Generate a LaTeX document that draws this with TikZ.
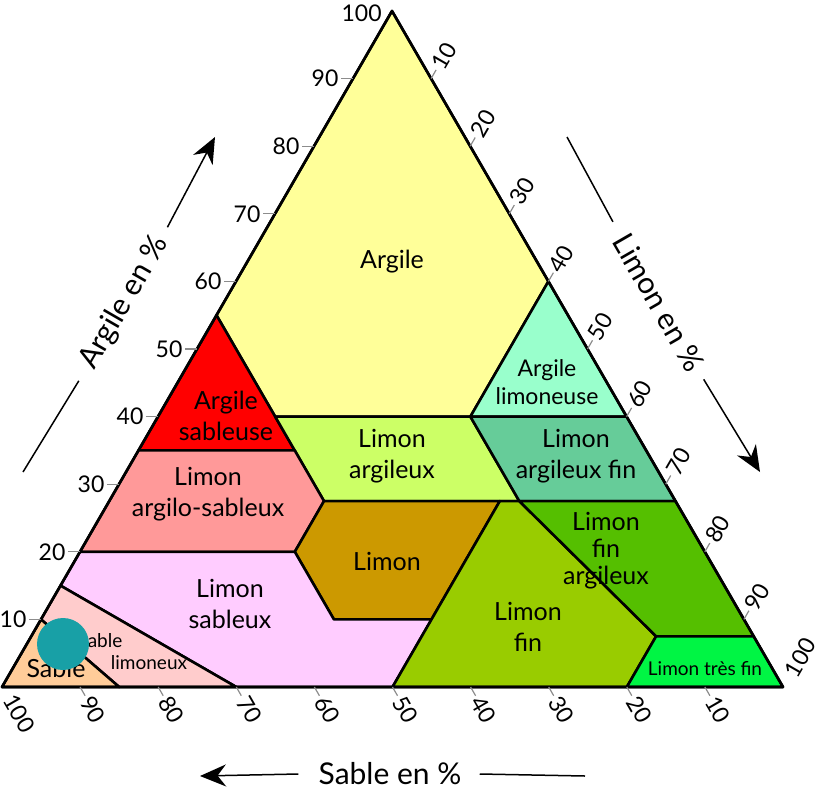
\documentclass[tikz,border=0pt]{standalone}
\usepackage{fontspec}
\setmainfont{Lato}
\usetikzlibrary{arrows.meta}
\definecolor{argile}{RGB}{255,255,153}
\definecolor{argsab}{RGB}{255,0,0}
\definecolor{arglim}{RGB}{153,255,204}
\definecolor{limarg}{RGB}{204,255,102}
\definecolor{limargfin}{RGB}{102,204,153}
\definecolor{limargsab}{RGB}{255,153,153}
\definecolor{limon}{RGB}{204,153,0}
\definecolor{limfin}{RGB}{153,204,0}
\definecolor{limfinarg}{RGB}{85,191,0}
\definecolor{limsab}{RGB}{255,204,255}
\definecolor{sablim}{RGB}{255,204,204}
\definecolor{sable}{RGB}{255,204,153}
\definecolor{limtresfin}{RGB}{0,245,68}
\definecolor{dotteal}{RGB}{24,160,166}
\tikzset{
	zone/.style={draw=black, line width=1.3pt, line join=round},
	zonetext/.style={align=center, font=\fontsize{12.5}{15.5}\selectfont},
	smalltext/.style={align=center, font=\fontsize{9.5}{11}\selectfont},
	tickline/.style={draw=black!45, line width=0.6pt},
	ticklabel/.style={font=\fontsize{11.5}{13}\selectfont, inner sep=1pt},
	axistitle/.style={font=\fontsize{15}{17}\selectfont, inner sep=0pt},
	axisline/.style={line width=0.75pt},
	axisarrow/.style={line width=0.75pt, -{Stealth[length=13pt,width=11pt]}}
}

\begin{document}
\begin{tikzpicture}[x=0.5pt,y=-0.5pt]
        \useasboundingbox (0,0) rectangle (819,793);
        % zones
        \draw [zone, fill=argile] (392,11) -- (216.5,315.2) -- (275.2,416.6) -- (470.4,416.6) -- (548.4,281.4) -- cycle;
        \draw [zone, fill=argsab] (216.5,315.2) -- (138.5,450.4) -- (294.7,450.4) -- cycle;
        \draw [zone, fill=arglim] (470.4,416.6) -- (548.4,281.4) -- (626.6,416.6) -- cycle;
        \draw [zone, fill=limarg] (275.2,416.6) -- (470.4,416.6) -- (519.3,501.1) -- (324.0,501.1) -- cycle;
        \draw [zone, fill=limargfin] (470.4,416.6) -- (626.6,416.6) -- (675.5,501.1) -- (519.3,501.1) -- cycle;
        \draw [zone, fill=limargsab] (138.5,450.4) -- (294.7,450.4) -- (324.0,501.1) -- (294.8,551.8) -- (80,551.8) -- cycle;
        \draw [zone, fill=limon] (324.0,501.1) -- (499.8,501.1) -- (431.5,619.4) -- (333.9,619.4) -- (294.8,551.8) -- cycle;
        \draw [zone, fill=limsab] (80,551.8) -- (294.8,551.8) -- (333.9,619.4) -- (431.5,619.4) -- (392.5,687) -- (236.3,687) -- (60.5,585.6) -- cycle;
        \draw [zone, fill=sablim] (60.5,585.6) -- (236.3,687) -- (119.2,687) -- (41,619.4) -- cycle;
        \draw [zone, fill=sable] (2,687) -- (41,619.4) -- (119.2,687) -- cycle;
        \draw [zone, fill=limfin] (499.8,501.1) -- (519.3,501.1) -- (656.1,636.3) -- (626.8,687) -- (392.5,687) -- (431.5,619.4) -- cycle;
        \draw [zone, fill=limfinarg] (519.3,501.1) -- (675.5,501.1) -- (753.7,636.3) -- (656.1,636.3) -- cycle;
        \draw [zone, fill=limtresfin] (656.1,636.3) -- (753.7,636.3) -- (783,687) -- (626.8,687) -- cycle;
        \draw [zone] (2,687) -- (783,687) -- (392,11) -- cycle;
        % zone names
        \node [zonetext] (argile) at (392,262) {Argile};
        \node [zonetext] (argsab) at (226,416) {Argile\\sableuse};
        \node [zonetext, font=\fontsize{11.5}{14}\selectfont] (arglim) at (547,382) {Argile\\limoneuse};
        \node [zonetext] (limarg) at (392,456) {Limon\\argileux};
        \node [zonetext] (limargfin) at (576,456) {Limon\\argileux fin};
        \node [zonetext] (limargsab) at (208,494) {Limon\\argilo-sableux};
        \node [zonetext] (limon) at (387,561) {Limon};
        \node [zonetext, font=\fontsize{12.5}{13.5}\selectfont] (limfinarg) at (606,551) {Limon\\fin\\argileux};
        \node [zonetext] (limsab) at (230,604) {Limon\\sableux};
        \node [zonetext] (limfin) at (528,627) {Limon\\fin};
        \node [smalltext] (sablim1) at (100,641) {Sable};
        \node [smalltext] (sablim2) at (149,663) {limoneux};
        \node [zonetext] (sable) at (56,668) {Sable};
        \node [smalltext] (limtresfin) at (705,669) {Limon très fin};
        % graduations
        \foreach \c in {10,20,...,90}
            \draw [tickline] ({2+3.9*\c},{687-6.76*\c}) -- ++(-12,0) node [ticklabel, anchor=east] (clay\c) {\c};
        \node [ticklabel, anchor=east] (clay100) at (384,13) {100};
        \foreach \s in {10,20,...,90}
            \draw [tickline] ({783-7.81*\s},687) -- ++(5,8.7) node [ticklabel, anchor=west, rotate=-60] (sand\s) {\s};
        \node [ticklabel, anchor=west, rotate=-60] (sand100) at (8,694) {100};
        \foreach \t in {10,20,...,90}
            \draw [tickline] ({392+3.91*\t},{11+6.76*\t}) -- ++(5,-8.7) node [ticklabel, anchor=west, rotate=60] (silt\t) {\t};
        \node [ticklabel, anchor=west, rotate=60] (silt100) at (789,677) {100};
        % axis titles
        \node [axistitle] (sabletitle) at (390,774) {Sable en \%};
        \coordinate (sablehead) at (200,776);
        \coordinate (sabletail) at (585,776);
        \draw [axisarrow] ([xshift=-10pt]sabletitle.west) -- (sablehead);
        \draw [axisline] ([xshift=9pt]sabletitle.east) -- (sabletail);
        \node [axistitle, rotate=60] (argiletitle) at (124.5,302.5) {Argile en \%};
        \coordinate (argiletail) at (23,472);
        \coordinate (argilehead) at (215,137);
        \draw [axisline, shorten >=8pt] (argiletail) -- (argiletitle.west);
        \draw [axisarrow, shorten <=6pt] (argiletitle.east) -- (argilehead);
        \node [axistitle, rotate=-60] (limontitle) at (659,302.5) {Limon en \%};
        \coordinate (limontail) at (567,137);
        \coordinate (limonhead) at (760,472);
        \draw [axisline, shorten >=8pt] (limontail) -- (limontitle.west);
        \draw [axisarrow, shorten <=6pt] (limontitle.east) -- (limonhead);
        % pastille
        \fill [dotteal] (63,644) circle (26);
    \end{tikzpicture}
\end{document}
